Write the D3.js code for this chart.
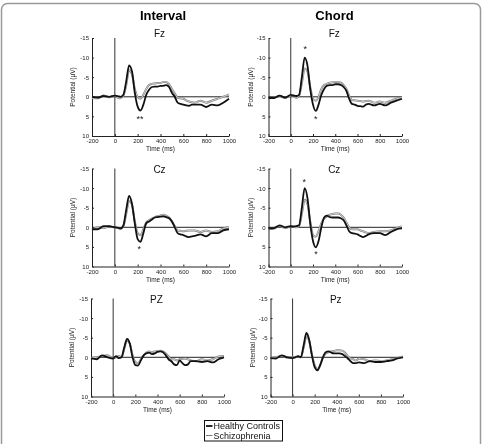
<!DOCTYPE html>
<html lang="en">
<head>
    <meta charset="UTF-8">
    <title>ERP</title>
    <script src="https://cdn.jsdelivr.net/npm/d3@7"></script>
    <style>
        body { margin: 0; background: #fff; }
        svg { display: block; font-family: "Liberation Sans", Arial, sans-serif; will-change: transform; }
    </style>
</head>
<body>
<script>
    // time points (ms)
    var times = [-200, -150, -100, -50, 0, 25, 50, 75, 100, 125, 150, 175, 200, 225, 250, 275, 300, 325, 350, 375,
        400, 425, 450, 475, 500, 525, 550, 575, 600, 625, 650, 675, 700, 750, 800, 850, 900, 950, 1000];

    var xTicks = [-200, 0, 200, 400, 600, 800, 1000];
    var yTicks = [-15, -10, -5, 0, 5, 10];
    var columns = ['Interval', 'Chord'];
    var electrodes = [['Fz', 'Fz'], ['Cz', 'Cz'], ['PZ', 'Pz']];
    var groups = ['Healthy Controls', 'Schizophrenia'];

    // potentials (uV), healthy controls / schizophrenia
    var intervalFzHC = [0, 0.2, -0.2, 0, -0.3, -0.2, 0, -0.5, -4, -8, -6.5, -1, 2.5, 3.5, 2, -0.5, -1.8, -2.5, -2.6, -2.6,
        -2.8, -2.8, -3.0, -2.5, -1.0, 0, 1.5, 1.8, 2.0, 2.2, 2.3, 2.0, 2.0, 2.0, 2.6, 2.0, 2.2, 1.5, 0.5];
    var intervalFzSZ = [0.3, 0.4, -0.3, 0.1, -0.2, 0.2, 0.4, -0.3, -3, -6.8, -5.8, -2, 0, 0.5, -0.5, -2.0, -3.0, -3.3, -3.4, -3.5,
        -3.5, -3.8, -3.8, -3.2, -2.0, -0.8, 0.2, 0.4, 0.5, 0.9, 1.2, 1.4, 1.5, 1.0, 1.5, 1.0, 0.5, 0.0, -0.6];

    var chordFzHC = [0.3, 0.3, -0.3, 0.2, -0.5, -0.3, -0.2, -0.5, -5, -10, -8, -2, 2, 3.6, 2, -0.5, -2.0, -2.8, -3.0, -3.0,
        -3.2, -3.2, -3.0, -2.5, -1.5, 0.5, 1.8, 2.0, 2.3, 2.4, 2.5, 2.0, 1.8, 2.2, 1.8, 2.2, 1.5, 1.0, 0.5];
    var chordFzSZ = [0.4, 0.2, -0.2, 0.3, -0.3, -0.4, 0.3, -0.3, -3.5, -7.2, -6.5, -2.5, 0.5, 1.0, 0, -2.0, -3.0, -3.3, -3.6, -3.7,
        -3.8, -3.8, -3.6, -3.0, -2.0, -0.3, 0.8, 0.9, 1.0, 1.1, 1.2, 1.1, 1.0, 1.5, 1.2, 1.5, 1.0, 0.5, 0.2];

    var intervalCzHC = [0.5, 0.5, -0.3, -0.3, 0.0, 0.1, 0.3, -0.5, -4.5, -8, -6, -1, 3, 3.7, 1.5, -1.0, -1.5, -2.0, -2.5, -2.6,
        -2.7, -2.8, -2.6, -2.3, -1.5, 0, 1.5, 1.8, 2.0, 2.3, 2.5, 2.3, 2.2, 1.8, 2.3, 1.5, 1.5, 0.8, 0.5];
    var intervalCzSZ = [0.6, 0.0, 0.2, -0.2, 0.1, 0.2, 0.3, -0.3, -3.5, -6.8, -5.8, -1.5, 1.5, 2.0, 0.5, -1.2, -1.8, -2.2, -2.6, -2.8,
        -3.0, -3.2, -3.0, -2.5, -1.5, -0.3, 0.8, 0.9, 1.0, 0.9, 0.8, 0.8, 0.8, 1.2, 0.8, 1.2, 1.0, 0.3, 0.0];

    var chordCzHC = [0.3, 0.2, -0.5, 0, -0.3, -0.2, -0.3, -0.5, -5, -10, -7.5, -1, 3.5, 5.1, 3.5, 0, -2.5, -3.0, -2.6, -2.5,
        -2.5, -2.5, -2.3, -1.8, -0.5, 1.0, 1.5, 1.6, 1.8, 2.2, 2.5, 2.2, 1.8, 1.5, 1.5, 2.0, 1.2, 0.5, 0.3];
    var chordCzSZ = [0.5, 0.3, -0.3, 0.2, -0.2, -0.1, 0, -0.3, -3.5, -7, -6, -1.5, 2, 2.4, 1, -1.0, -2.2, -2.8, -3.2, -3.4,
        -3.5, -3.5, -3.2, -2.5, -1.2, 0, 0.5, 0.5, 0.5, 0.8, 1.0, 1.3, 1.5, 1.2, 1.0, 1.0, 0.8, 0.2, -0.2];

    var intervalPzHC = [0.3, 0.5, -0.5, 0, 0.3, -0.3, 0.2, 0, -2.5, -4.7, -3.5, 0, 2.0, 2.1, 0.8, -0.5, -1.0, -1.2, -0.8, -1.0,
        -1.4, -1.5, -1.3, -0.5, 0.5, 1.0, 1.8, 2.0, 0.8, 1.5, 2.0, 1.8, 1.0, 1.0, 1.2, 1.0, 1.3, 0.5, 0];
    var intervalPzSZ = [0.2, 0, -0.3, -0.5, 0.2, 0, -0.3, 0, -2.2, -4.3, -3.5, -0.5, 1.2, 1.5, 0.5, -0.5, -1.2, -1.5, -1.3, -1.5,
        -1.6, -1.7, -1.5, -1.0, -0.2, 0.5, 0.5, 0.8, 0.5, 0.4, 0.3, 0.5, 0.8, 1.0, 0.5, 0.8, 0.5, -0.2, -0.3];

    var chordPzHC = [0.2, 0.3, -0.5, 0, 0.2, 0, -0.3, 0, -3, -6.2, -4.5, -0.5, 2.5, 3.3, 2.0, 0, -1.3, -1.5, -1.2, -1.0,
        -1.0, -1.0, -0.8, -0.3, 0.3, 1.0, 1.5, 1.5, 1.3, 1.4, 1.5, 1.2, 1.0, 1.2, 1.2, 1.0, 0.8, 0.3, 0];
    var chordPzSZ = [0.2, 0, -0.3, 0, 0, 0, -0.2, 0, -2.5, -5.3, -4.2, -0.8, 2.0, 3.0, 2.0, 0, -1.0, -1.3, -1.5, -1.6,
        -1.8, -1.8, -1.7, -1.2, -0.3, 0.3, 0.5, 0.8, 0.3, 0.4, 0.5, 0.8, 1.0, 0.8, 1.0, 0.8, 0.5, 0.2, -0.2];

    // significance marks: [time, potential, label]
    var intervalFzStars = [[221, 5.3, '**']];
    var chordFzStars = [[130, -12.4, '*'], [225, 5.4, '*']];
    var intervalCzStars = [[215, 5.3, '*']];
    var chordCzStars = [[122, -11.8, '*'], [227, 6.5, '*']];

    var nw = 482, nh = 444;

    var osvg = d3.select("body")
        .append('svg')
        .attr('width', nw)
        .attr('height', nh);

    // figure frame
    osvg.append('rect')
        .attr('x', 1.5).attr('y', 3.5)
        .attr('width', 479).attr('height', 470)
        .attr('rx', 6)
        .attr('fill', 'none')
        .attr('stroke', '#9a9a9a')
        .attr('stroke-width', 1.5);

    // column titles
    osvg.append('text').attr('x', 163).attr('y', 20).attr('text-anchor', 'middle')
        .attr('font-size', 13).attr('font-weight', 'bold').text(columns[0]);
    osvg.append('text').attr('x', 334.5).attr('y', 20).attr('text-anchor', 'middle')
        .attr('font-size', 13).attr('font-weight', 'bold').text(columns[1]);

    var panels = [
        { col: 0, row: 0, hc: intervalFzHC, sz: intervalFzSZ, stars: intervalFzStars, x: 92, y: 38, w: 137, h: 98, ty: 36.5 },
        { col: 1, row: 0, hc: chordFzHC, sz: chordFzSZ, stars: chordFzStars, x: 268.5, y: 38, w: 133.5, h: 98, ty: 36.5 },
        { col: 0, row: 1, hc: intervalCzHC, sz: intervalCzSZ, stars: intervalCzStars, x: 92, y: 168.5, w: 137, h: 98, ty: 172.5 },
        { col: 1, row: 1, hc: chordCzHC, sz: chordCzSZ, stars: chordCzStars, x: 268.5, y: 168.5, w: 133.5, h: 98, ty: 172.5 },
        { col: 0, row: 2, hc: intervalPzHC, sz: intervalPzSZ, stars: [], x: 91, y: 298.5, w: 133, h: 98, ty: 302.5 },
        { col: 1, row: 2, hc: chordPzHC, sz: chordPzSZ, stars: [], x: 270.5, y: 298.5, w: 132.5, h: 98, ty: 302.5 }
    ];

    panels.forEach(function (p) {
        var g = osvg.append('g')
            .attr('transform', 'translate(' + p.x + ',' + p.y + ')');

        var xscale = d3.scaleLinear().domain([-200, 1000]).range([0, p.w]);
        var yscale = d3.scaleLinear().domain([-15, 10]).range([0, p.h]);

        var yaxis = d3.axisLeft(yscale)
            .tickValues(yTicks)
            .tickSizeInner(-2)
            .tickSizeOuter(0)
            .tickPadding(3)
            .tickFormat(d => String(d));

        var xaxis = d3.axisBottom(xscale)
            .tickValues(xTicks)
            .tickSizeInner(-2)
            .tickSizeOuter(0)
            .tickPadding(3)
            .tickFormat(d => String(d));

        var ya = g.append('g').call(yaxis);
        var xa = g.append('g').attr('transform', 'translate(0,' + p.h + ')').call(xaxis);
        [ya, xa].forEach(function (a) {
            a.selectAll('text').attr('font-size', 6).attr('fill', '#222').attr('font-family', null);
            a.select('.domain').attr('stroke', '#222');
            a.selectAll('.tick line').attr('stroke', '#222');
        });

        // reference lines
        g.append('line')
            .attr('x1', xscale(0)).attr('x2', xscale(0))
            .attr('y1', 0).attr('y2', p.h)
            .attr('stroke', '#333').attr('stroke-width', 1);
        g.append('line')
            .attr('x1', 0).attr('x2', p.w)
            .attr('y1', yscale(0)).attr('y2', yscale(0))
            .attr('stroke', '#222').attr('stroke-width', 1);

        var line = d3.line()
            .x((d, i) => xscale(times[i]))
            .y(d => yscale(d))
            .curve(d3.curveMonotoneX);

        // schizophrenia: hollow grey trace
        g.append('path').attr('d', line(p.sz))
            .attr('fill', 'none').attr('stroke', '#7a7a7a').attr('stroke-width', 2);
        g.append('path').attr('d', line(p.sz))
            .attr('fill', 'none').attr('stroke', '#f2f2f2').attr('stroke-width', 0.7);
        // healthy controls: solid black
        g.append('path').attr('d', line(p.hc))
            .attr('fill', 'none').attr('stroke', '#111').attr('stroke-width', 1.8);

        g.selectAll('text.star')
            .data(p.stars)
            .enter()
            .append('text')
            .attr('class', 'star')
            .attr('x', d => xscale(d[0]))
            .attr('y', d => yscale(d[1]) + 4)
            .attr('text-anchor', 'middle')
            .attr('font-size', 9)
            .attr('fill', '#222')
            .text(d => d[2]);

        // electrode title
        g.append('text')
            .attr('x', p.w / 2 - 1)
            .attr('y', p.ty - p.y)
            .attr('text-anchor', 'middle')
            .attr('font-size', 10)
            .attr('fill', '#111')
            .text(electrodes[p.row][p.col]);

        g.append('text')
            .attr('x', p.w / 2)
            .attr('y', p.h + 15)
            .attr('text-anchor', 'middle')
            .attr('font-size', 6.5)
            .attr('fill', '#222')
            .text('Time (ms)');

        g.append('text')
            .attr('transform', 'translate(' + (p.col === 0 ? -17 : -15.5) + ',' + (p.h / 2) + ') rotate(-90)')
            .attr('text-anchor', 'middle')
            .attr('font-size', 6.5)
            .attr('fill', '#222')
            .text('Potential (\u00b5V)');
    });

    // legend
    var lg = osvg.append('g').attr('transform', 'translate(204.5,420.5)');
    lg.append('rect').attr('width', 78).attr('height', 20.5)
        .attr('fill', '#fff').attr('stroke', '#111').attr('stroke-width', 1);
    lg.append('line').attr('x1', 1.5).attr('x2', 8).attr('y1', 5.5).attr('y2', 5.5)
        .attr('stroke', '#111').attr('stroke-width', 1.8);
    lg.append('line').attr('x1', 1.5).attr('x2', 8).attr('y1', 15).attr('y2', 15)
        .attr('stroke', '#7a7a7a').attr('stroke-width', 1);
    lg.selectAll('text.lab')
        .data(groups)
        .enter()
        .append('text')
        .attr('class', 'lab')
        .attr('x', 9)
        .attr('y', (d, i) => 8.6 + i * 9.5)
        .attr('font-size', 9)
        .attr('fill', '#111')
        .text(d => d);
</script>
</body>
</html>
